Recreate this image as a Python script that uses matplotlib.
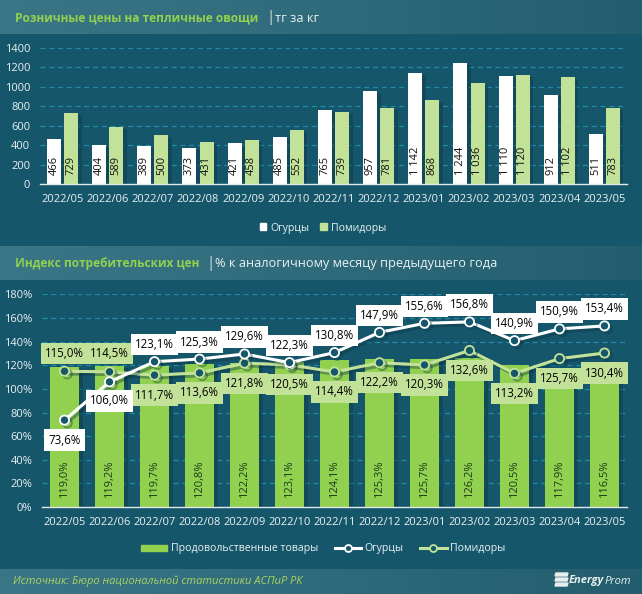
import numpy as np
import matplotlib
matplotlib.use("Agg")
import matplotlib.pyplot as plt
import matplotlib.patheffects as pe
from matplotlib.lines import Line2D
from matplotlib.patches import Patch, Polygon

plt.rcParams['font.family'] = ['Open Sans', 'DejaVu Sans']

# data
months = ['2022/05', '2022/06', '2022/07', '2022/08', '2022/09', '2022/10', '2022/11',
          '2022/12', '2023/01', '2023/02', '2023/03', '2023/04', '2023/05']
price_cucumber = [466, 404, 389, 373, 421, 485, 765, 957, 1142, 1244, 1110, 912, 511]
price_tomato = [729, 589, 500, 431, 458, 552, 739, 781, 868, 1036, 1120, 1102, 783]
cpi_food = [119.0, 119.2, 119.7, 120.8, 122.2, 123.1, 124.1, 125.3, 125.7, 126.2, 120.5, 117.9, 116.5]
cpi_cucumber = [73.6, 106.0, 123.1, 125.3, 129.6, 122.3, 130.8, 147.9, 155.6, 156.8, 140.9, 150.9, 153.4]
cpi_tomato = [115.0, 114.5, 111.7, 113.6, 121.8, 120.5, 114.4, 122.2, 120.3, 132.6, 113.2, 125.7, 130.4]

# label offsets from the point, px
cucumber_off = [-20, -19, 17, 17, 17, 17, 17, 17, 17, 17, 17, 17, 17]
tomato_off = [18, 18, -20, -20, -20, -20, -20, -20, -20, -20, -20, -20, -20]

W, H = 642, 594
BG = '#16566a'
GREEN = '#92d050'
LIGHT = '#c3e299'
GRID = '#1f8ca6'
TXT = '#e9f1f2'

fig = plt.figure(figsize=(W / 100, H / 100), dpi=100, facecolor=BG)


def px_axes(x0, y0, x1, y1):
    # rectangle in picture pixels, y going down
    return fig.add_axes([x0 / W, 1 - y1 / H, (x1 - x0) / W, (y1 - y0) / H])


def band(y0, y1):
    ax = px_axes(0, y0, W, y1)
    grad = np.linspace(0, 1, 256).reshape(1, -1)
    cmap = matplotlib.colors.LinearSegmentedColormap.from_list('b', ['#3a7686', '#2f6b7b', '#235d6e'])
    ax.imshow(grad, aspect='auto', cmap=cmap)
    ax.axis('off')


def style(ax):
    ax.set_facecolor('none')
    for s in ['top', 'right', 'left']:
        ax.spines[s].set_visible(False)
    ax.spines['bottom'].set_color('#dfe9ea')
    ax.spines['bottom'].set_linewidth(1)
    ax.grid(axis='y', color=GRID, linestyle=(0, (4, 3)), linewidth=0.9)
    ax.set_axisbelow(True)
    ax.tick_params(axis='both', length=0, colors=TXT, labelsize=8)
    ax.tick_params(axis='x', pad=7)
    ax.tick_params(axis='y', pad=7)


def fmt(v):
    return f'{v:,}'.replace(',', ' ')


shadow = [pe.SimplePatchShadow(offset=(2.5, -1.5), shadow_rgbFace='#0b3342', alpha=0.4), pe.Normal()]

band(0, 34)
band(246, 280)
band(569, 594)

fig.text(15 / W, 1 - 18 / H, 'Розничные цены на тепличные овощи', color=GREEN, fontsize=8.6,
         fontweight='bold', va='center')
fig.text(266.5 / W, 1 - 17.5 / H, '|', color='#d5e2e4', fontsize=11, va='center')
fig.text(275 / W, 1 - 18 / H, 'тг за кг', color=TXT, fontsize=9.2, va='center')
fig.text(15 / W, 1 - 264 / H, 'Индекс потребительских цен', color=GREEN, fontsize=8.6,
         fontweight='bold', va='center')
fig.text(206.5 / W, 1 - 263.5 / H, '|', color='#d5e2e4', fontsize=11, va='center')
fig.text(215 / W, 1 - 264 / H, '% к аналогичному месяцу предыдущего года', color=TXT, fontsize=9.2, va='center')
fig.text(13 / W, 1 - 581 / H, 'Источник: Бюро национальной статистики АСПиР РК', color='#a9d35f',
         fontsize=8, style='italic', va='center')

# top chart
ax1 = px_axes(40, 48, 627, 184)
style(ax1)
x = np.arange(len(months))
w = 0.31
ax1.bar(x - 0.19, price_cucumber, w, color='white', path_effects=shadow)
ax1.bar(x + 0.19, price_tomato, w, color=LIGHT, path_effects=shadow)
for xi, v in zip(x, price_cucumber):
    ax1.text(xi - 0.19, 90, fmt(v), rotation=90, ha='center', va='bottom', fontsize=8, color='#111111')
for xi, v in zip(x, price_tomato):
    ax1.text(xi + 0.19, 90, fmt(v), rotation=90, ha='center', va='bottom', fontsize=8, color='#111111')
ax1.set_xlim(-0.5, len(months) - 0.5)
ax1.set_ylim(0, 1400)
ax1.set_yticks(range(0, 1401, 200))
ax1.set_xticks(x, months)

ax1.legend(handles=[Patch(color='white', label='Огурцы'), Patch(color=LIGHT, label='Помидоры')],
           loc='center', bbox_to_anchor=(323 / W, 1 - 228 / H), bbox_transform=fig.transFigure,
           ncol=2, frameon=False, fontsize=7.6, labelcolor=TXT, handlelength=0.65, handleheight=0.65,
           handletextpad=0.4, columnspacing=1.0)

# bottom chart
ax2 = px_axes(42, 294.5, 627, 507)
style(ax2)
ax2.bar(x, cpi_food, 0.665, color=GREEN, path_effects=shadow, label='Продовольственные товары')
for xi, v in zip(x, cpi_food):
    ax2.text(xi, 8, f'{v:.1f}%'.replace('.', ','), rotation=90, ha='center', va='bottom', fontsize=8, color='#1c3a1a')

line_shadow = [pe.SimpleLineShadow(offset=(2, -2), shadow_color='#0b3342', alpha=0.4), pe.Normal()]
ax2.plot(x, cpi_tomato, color=LIGHT, lw=2.2, marker='o', ms=6.6, mfc=BG, mec=LIGHT, mew=1.3,
         path_effects=line_shadow, label='Помидоры', zorder=3)
ax2.plot(x, cpi_cucumber, color='white', lw=2.2, marker='o', ms=6.6, mfc=BG, mec='white', mew=1.3,
         path_effects=line_shadow, label='Огурцы', zorder=4)


def point_labels(values, offsets, face):
    for xi, v, off in zip(x, values, offsets):
        ax2.annotate(f'{v:.1f}%'.replace('.', ','), (xi, v), xytext=(0, off * 0.72), textcoords='offset points',
                     ha='center', va='center', fontsize=8.3, color='black', zorder=6,
                     bbox=dict(boxstyle='square,pad=0.36', fc=face, ec='none'))


point_labels(cpi_tomato, tomato_off, LIGHT)
point_labels(cpi_cucumber, cucumber_off, 'white')

ax2.set_xlim(-0.5, len(months) - 0.5)
ax2.set_ylim(0, 180)
ax2.set_yticks(range(0, 181, 20))
ax2.set_yticklabels([f'{v}%' for v in range(0, 181, 20)])
ax2.set_xticks(x, months)

handles = [Patch(color=GREEN, label='Продовольственные товары'),
           Line2D([], [], color='white', lw=2.2, marker='o', ms=5, mfc=BG, mec='white', mew=1.3, label='Огурцы'),
           Line2D([], [], color=LIGHT, lw=2.2, marker='o', ms=5, mfc=BG, mec=LIGHT, mew=1.3, label='Помидоры')]
ax2.legend(handles=handles, loc='center', bbox_to_anchor=(323 / W, 1 - 549 / H), bbox_transform=fig.transFigure,
           ncol=3, frameon=False, fontsize=7.6, labelcolor=TXT, handlelength=2.5, handleheight=0.5,
           handletextpad=0.3, columnspacing=1.6)

# logo
t = fig.text(569 / W, 1 - 581 / H, 'Energy', color='#e6eeee', fontsize=8, fontweight='bold', style='italic', va='center')
ax2.annotate('Prom', xy=(1, 0.5), xycoords=t, xytext=(0.5, 0), textcoords='offset points', color='#e6eeee',
             fontsize=8, style='italic', va='center', annotation_clip=False)
for top in [573, 578, 583]:
    pts = [(556, top), (568, top), (567, top + 3), (555, top + 3)]
    fig.add_artist(Polygon([(a / W, 1 - b / H) for a, b in pts], closed=True, color='#e6eeee',
                           transform=fig.transFigure))

fig.savefig('out.png', dpi=100, facecolor=BG)
